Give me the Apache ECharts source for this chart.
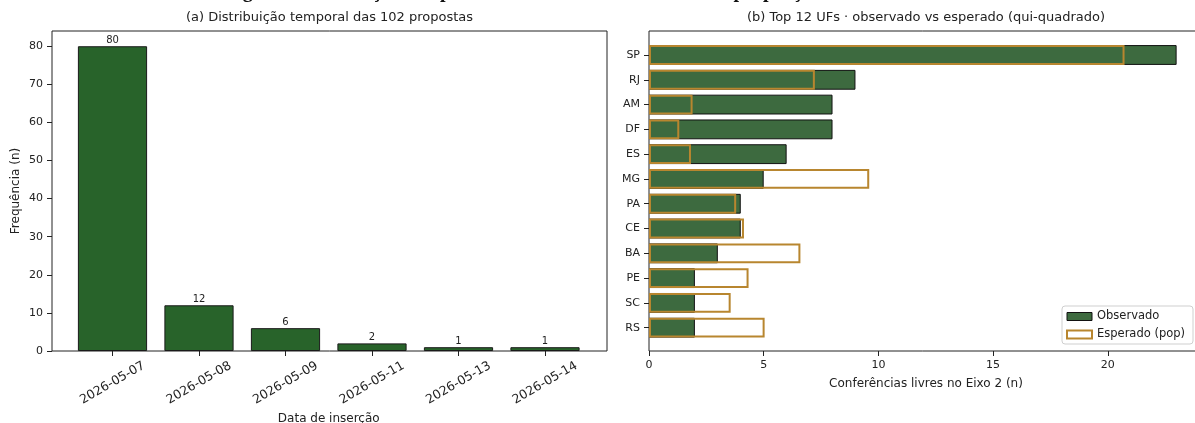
<!DOCTYPE html>
<html>
<head>
<meta charset="utf-8">
<script src="https://cdn.jsdelivr.net/npm/echarts@6/dist/echarts.min.js"></script>
<style>
  html, body { margin: 0; padding: 0; background: #fff; }
  #chart { width: 1195px; height: 423px; }
</style>
</head>
<body>
<div id="chart"></div>
<script>
// (a) daily insertions
const dates = ['2026-05-07', '2026-05-08', '2026-05-09', '2026-05-11', '2026-05-13', '2026-05-14'];
const counts = [80, 12, 6, 2, 1, 1];
const freqTicks = [0, 10, 20, 30, 40, 50, 60, 70, 80];

// (b) top 12 UFs: observed vs expected by population share
const ufs = ['SP', 'RJ', 'AM', 'DF', 'ES', 'MG', 'PA', 'CE', 'BA', 'PE', 'SC', 'RS'];
const observed = [23, 9, 8, 8, 6, 5, 4, 4, 3, 2, 2, 2];
const expected = [20.73, 7.23, 1.9, 1.32, 1.83, 9.6, 3.8, 4.14, 6.6, 4.34, 3.56, 5.04];
const confTicks = [0, 5, 10, 15, 20];

const FONT = 'DejaVu Sans';
const INK = '#222';
const GREEN_A = '#28632a';
const GREEN_B = '#3d6a3f';
const GOLD = '#b8862f';

const freqMax = 84;     // 80 + 5% headroom
const confMax = 24.15;  // 23 + 5% headroom

const chart = echarts.init(document.getElementById('chart'), null, { renderer: 'canvas' });

const tickStyle = { show: true, inside: false, length: 5, lineStyle: { color: INK, width: 1 } };
const gridBase = { containLabel: false, outerBoundsMode: 'none' };

chart.setOption({
  animation: false,
  backgroundColor: '#fff',
  textStyle: { fontFamily: FONT },
  title: [
    {
      text: 'Figura 4 — Inserção das pautas no Eixo 2 e das UFs versus proporção',
      left: 225, top: -18.5, padding: 0,
      textStyle: { fontFamily: 'Liberation Serif', fontWeight: 'bold', fontSize: 20, color: '#111' }
    },
    {
      text: '(a) Distribuição temporal das 102 propostas',
      left: 329.5, top: 11, textAlign: 'center', padding: 0,
      textStyle: { fontFamily: FONT, fontWeight: 'normal', fontSize: 13, color: INK }
    },
    {
      text: '(b) Top 12 UFs · observado vs esperado (qui-quadrado)',
      left: 926, top: 11, textAlign: 'center', padding: 0,
      textStyle: { fontFamily: FONT, fontWeight: 'normal', fontSize: 13, color: INK }
    }
  ],
  legend: {
    orient: 'vertical',
    left: 1062, top: 306,
    padding: [4, 8, 3, 4],
    itemGap: 5,
    itemWidth: 25, itemHeight: 8,
    icon: 'rect',
    borderColor: '#cfcfcf', borderWidth: 1, borderRadius: 3,
    backgroundColor: 'rgba(255,255,255,0.8)',
    textStyle: { fontFamily: FONT, fontSize: 11.5, color: INK, lineHeight: 13 },
    data: [
      { name: 'Observado', itemStyle: { color: GREEN_B, borderColor: '#111', borderWidth: 1 } },
      { name: 'Esperado (pop)', itemStyle: { color: '#fff', borderColor: GOLD, borderWidth: 2 } }
    ]
  },
  grid: [
    // 0: frame of panel (a)
    Object.assign({ left: 52, top: 31, width: 555, height: 320, show: true, borderColor: INK, borderWidth: 1, backgroundColor: 'transparent' }, gridBase),
    // 1: bar area of panel (a)
    Object.assign({ left: 69.25, top: 31, width: 519, height: 320 }, gridBase),
    // 2: frame of panel (b)
    Object.assign({ left: 649, top: 31, width: 554, height: 320, show: true, borderColor: INK, borderWidth: 1, backgroundColor: 'transparent' }, gridBase),
    // 3: bar area of panel (b)
    Object.assign({ left: 649, top: 42.6, width: 554, height: 297.5 }, gridBase)
  ],
  xAxis: [
    { gridIndex: 0, type: 'value', min: 0, max: 1, show: false },
    {
      gridIndex: 1, type: 'category', data: dates,
      axisLine: { show: false },
      axisTick: Object.assign({ alignWithLabel: true }, tickStyle),
      axisLabel: { rotate: 30, align: 'center', verticalAlign: 'middle', margin: 32, fontSize: 12.5, color: INK, fontFamily: FONT },
      name: 'Data de inserção', nameLocation: 'middle', nameGap: 61,
      nameTextStyle: { fontSize: 12, color: INK, fontFamily: FONT }
    },
    {
      gridIndex: 2, type: 'value', min: 0, max: confMax, interval: 5,
      axisLine: { show: false },
      axisTick: Object.assign({ customValues: confTicks }, tickStyle),
      axisLabel: { customValues: confTicks, margin: 9, fontSize: 11, color: INK, fontFamily: FONT },
      splitLine: { show: false },
      name: 'Conferências livres no Eixo 2 (n)', nameLocation: 'middle', nameGap: 27,
      nameTextStyle: { fontSize: 12, color: INK, fontFamily: FONT }
    },
    { gridIndex: 3, type: 'value', min: 0, max: confMax, show: false }
  ],
  yAxis: [
    {
      gridIndex: 0, type: 'value', min: 0, max: freqMax, interval: 10,
      axisLine: { show: false },
      axisTick: Object.assign({ customValues: freqTicks }, tickStyle),
      axisLabel: { customValues: freqTicks, margin: 9, fontSize: 11, color: INK, fontFamily: FONT },
      splitLine: { show: false },
      name: 'Frequência (n)', nameLocation: 'middle', nameGap: 30, nameRotate: 90,
      nameTextStyle: { fontSize: 12, color: INK, fontFamily: FONT }
    },
    { gridIndex: 1, type: 'value', min: 0, max: freqMax, show: false },
    { gridIndex: 2, type: 'value', min: 0, max: 1, show: false },
    {
      gridIndex: 3, type: 'category', data: ufs, inverse: true,
      axisLine: { show: false },
      axisTick: Object.assign({ alignWithLabel: true }, tickStyle),
      axisLabel: { margin: 9, fontSize: 11, color: INK, fontFamily: FONT }
    }
  ],
  series: [
    {
      name: 'Propostas', type: 'bar', xAxisIndex: 1, yAxisIndex: 1,
      data: counts, barWidth: '80%',
      itemStyle: { color: GREEN_A, borderColor: '#1a1a1a', borderWidth: 1 },
      label: { show: true, position: 'top', distance: 1, fontSize: 10, color: INK, fontFamily: FONT }
    },
    {
      name: 'Observado', type: 'bar', xAxisIndex: 3, yAxisIndex: 3,
      data: observed, barWidth: '80%', barGap: '-100%',
      itemStyle: { color: GREEN_B, borderColor: '#111', borderWidth: 1 }
    },
    {
      name: 'Esperado (pop)', type: 'bar', xAxisIndex: 3, yAxisIndex: 3,
      data: expected, barWidth: '80%', barGap: '-100%',
      itemStyle: { color: 'rgba(255,255,255,0)', borderColor: GOLD, borderWidth: 2 }
    }
  ]
});
</script>
</body>
</html>
